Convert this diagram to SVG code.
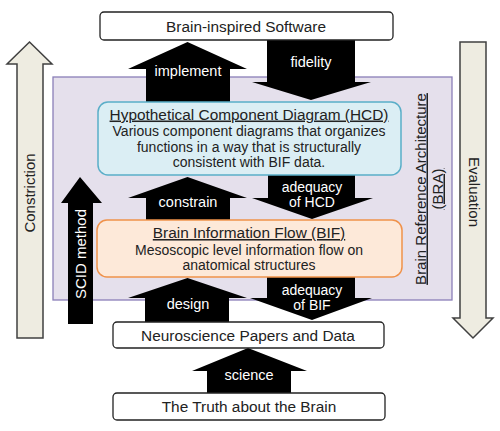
<svg xmlns="http://www.w3.org/2000/svg" width="500" height="431" viewBox="0 0 500 431">
<style>
text{font-family:"Liberation Sans",Arial,sans-serif;font-size:14.5px;fill:#222;text-anchor:middle}
.w{fill:#fff}
.box{fill:#fff;stroke:#222;stroke-width:1.3}
.blk{fill:#000}
.big{fill:#eeece1;stroke:#404040;stroke-width:1.5}
.u{text-decoration:underline}
.s14{font-size:14px}
.s15{font-size:15px}
.t{font-size:15.4px}
</style>
<rect width="500" height="431" fill="#fff"/>
<g id="bra">
<rect x="53" y="77" width="399" height="223" fill="#e5e0ec" stroke="#8a7fb8" stroke-width="1.3"/>
<text transform="translate(420.5,189) rotate(-90)" class="u s15" y="5">Brain Reference Architecture</text>
<text transform="translate(437.5,189) rotate(-90)" class="u s15" y="5">(BRA)</text>
</g>
<g id="connectors">
<polygon class="big" points="29.5,42 52,64 43,64 43,338 17,338 17,64 7,64"/>
<text class="s15" transform="translate(30,193) rotate(-90)" y="5">Constriction</text>
<polygon class="big" points="460,42 486,42 486,318 493,318 473,338 453,318 460,318"/>
<text class="s15" transform="translate(474,192) rotate(90)" y="5">Evaluation</text>
<polygon class="blk" points="187.5,42 247,69 230,69 230,102 146,102 146,69 128,69"/>
<text class="w" x="188" y="76">implement</text>
<polygon class="blk" points="267,40 355,40 355,82 371,82 311,100 252,82 267,82"/>
<text class="w" x="311" y="67">fidelity</text>
<polygon class="blk" points="187.5,177 247,198 230,198 230,221 146,221 146,198 128,198"/>
<text class="w" x="188" y="207">constrain</text>
<polygon class="blk" points="268,174 355,174 355,198 373,198 312,219 252,198 268,198"/>
<text class="w s14" x="312" y="191.5">adequacy</text>
<text class="w s14" x="312" y="207.2">of HCD</text>
<polygon class="blk" points="80,177 102,203 93,203 93,324 68,324 68,203 61,203"/>
<text class="w s15" transform="translate(81,254) rotate(-90)" y="5">SCID method</text>
<polygon class="blk" points="187.5,278 247,298 229,298 229,322 145,322 145,298 128,298"/>
<text class="w" x="188" y="309">design</text>
<polygon class="blk" points="267,276 355,276 355,298 372,298 312,320 250,298 267,298"/>
<text class="w s14" x="312" y="294.5">adequacy</text>
<text class="w s14" x="312" y="310.2">of BIF</text>
<polygon class="blk" points="248,348 307,371 291,371 291,393 207,393 207,371 192,371"/>
<text class="w" x="249" y="380">science</text>
</g>
<g id="software">
<rect class="box" x="100" y="12" width="293" height="28" rx="4"/>
<text class="t" x="246" y="31.5">Brain-inspired Software</text>
</g>
<g id="hcd">
<rect x="98" y="102" width="303" height="73" rx="10" fill="#dbeef4" stroke="#5aaec8" stroke-width="1.5"/>
<text x="249" y="119.5" class="u t">Hypothetical Component Diagram (HCD)</text>
<text x="249" y="136" class="s14">Various component diagrams that organizes</text>
<text x="249" y="151.6" class="s14">functions in a way that is structurally</text>
<text x="249" y="167.2" class="s14">consistent with BIF data.</text>
</g>
<g id="bif">
<rect x="97" y="220" width="305" height="57" rx="10" fill="#fde9d9" stroke="#f0924a" stroke-width="1.5"/>
<text x="249" y="238" class="u t">Brain Information Flow (BIF)</text>
<text x="249" y="254.5" class="s14">Mesoscopic level information flow on</text>
<text x="249" y="270" class="s14">anatomical structures</text>
</g>
<g id="papers">
<rect class="box" x="113" y="322" width="271" height="26" rx="4"/>
<text class="t" x="248" y="340.5">Neuroscience Papers and Data</text>
</g>
<g id="truth">
<rect class="box" x="113" y="393" width="272" height="27" rx="4"/>
<text class="t" x="249" y="412">The Truth about the Brain</text>
</g>
</svg>
